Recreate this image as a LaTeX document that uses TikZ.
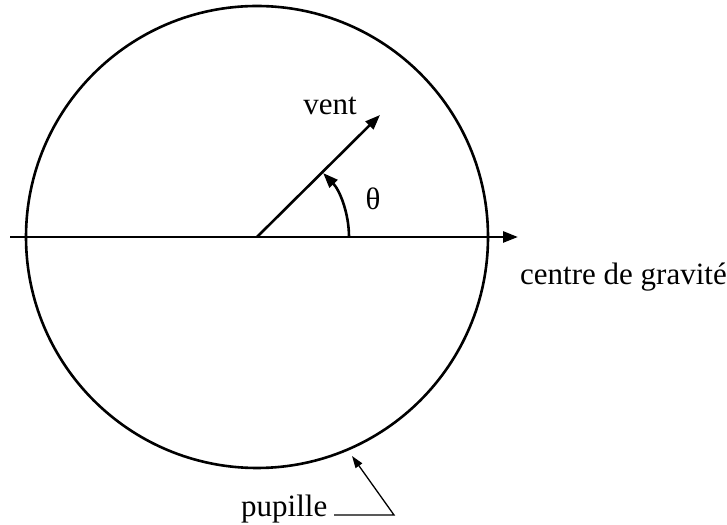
\documentclass[tikz,border=0pt]{standalone}
\usepackage{fontspec}
\setmainfont{Liberation Serif}
\usetikzlibrary{arrows.meta}
\begin{document}
\begin{tikzpicture}[x=1pt,y=1pt,
  thick line/.style={line width=2.6pt},
  thin line/.style={line width=1.3pt},
  big arrow/.style={-{Triangle[length=15pt,width=11pt]}},
  small arrow/.style={-{Triangle[length=12pt,width=8pt]}},
  lbl/.style={inner sep=0pt,font=\fontsize{31}{37}\selectfont}]
\useasboundingbox (0,0) rectangle (727,524);
% centre and circle
\coordinate (O) at (257,287);
\node[draw,thick line,circle,minimum size=462pt,inner sep=0pt] (circ) at (O) {};
% axis
\coordinate (axL) at (10,287);
\coordinate (axR) at (518,287);
\draw[thick line,big arrow] (axL) -- (axR);
% wind vector
\coordinate (ventEnd) at (380,409);
\draw[thick line,big arrow] (O) -- (ventEnd);
% angle arc
\coordinate (arcStart) at (349,287);
\draw[thick line,big arrow] (arcStart) arc[start angle=0,end angle=44,radius=92];
% labels
\node[lbl,anchor=base] (vent) at (330,409) {vent};
\node[lbl] (theta) at (373,325) {θ};
\node[lbl,anchor=base west] (cg) at (520,239) {centre de gravité};
\node[lbl,anchor=base west] (pup) at (241,8) {pupille};
% pupille leader
\coordinate (pupStart) at (334,9);
\coordinate (pupCorner) at (394,9);
\coordinate (pupTip) at (352,68);
\draw[thin line,small arrow] (pupStart) -- (pupCorner) -- (pupTip);
\end{tikzpicture}
\end{document}
